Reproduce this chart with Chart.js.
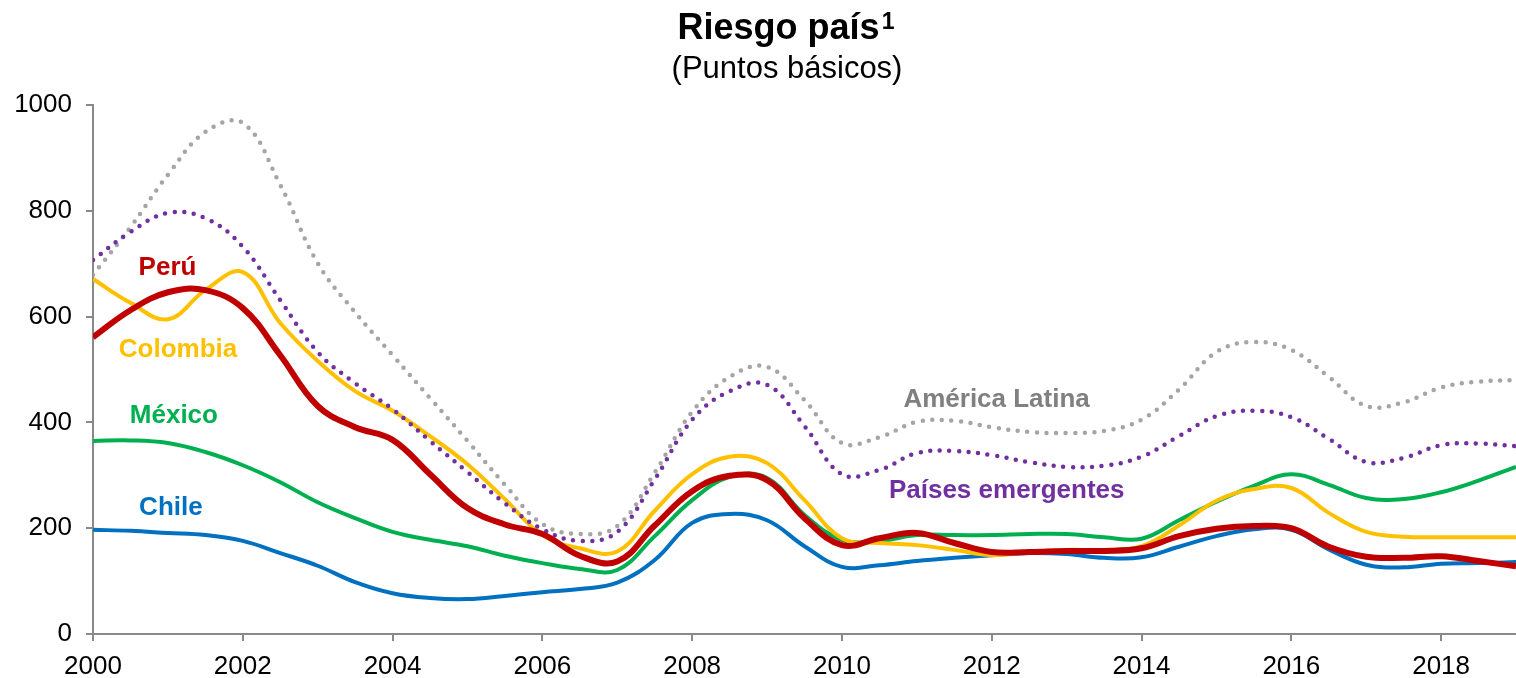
<!DOCTYPE html>
<html>
<head>
<meta charset="utf-8">
<title>Riesgo país</title>
<script src="https://cdn.jsdelivr.net/npm/chart.js@4.4.1/dist/chart.umd.min.js"></script>
<style>
  html, body { margin: 0; padding: 0; background: #ffffff; }
  #wrap { width: 1516px; height: 678px; position: relative; }
</style>
</head>
<body>
<div id="wrap"><canvas id="riesgoChart"></canvas></div>
<script>
// Spread soberano semestral, puntos básicos
var periodos = [
  2000, 2000.5, 2001, 2001.5, 2002, 2002.5, 2003, 2003.5, 2004, 2004.5,
  2005, 2005.5, 2006, 2006.5, 2007, 2007.5, 2008, 2008.5, 2009, 2009.5,
  2010, 2010.5, 2011, 2011.5, 2012, 2012.5, 2013, 2013.5, 2014, 2014.5,
  2015, 2015.5, 2016, 2016.5, 2017, 2017.5, 2018, 2018.5, 2019
];
var americaLatina = [
  679, 769, 868, 949, 966, 849, 701, 608, 527, 446,
  365, 282, 208, 189, 204, 305, 420, 486, 505, 442,
  361, 372, 401, 403, 391, 382, 380, 384, 405, 462,
  533, 552, 537, 486, 431, 438, 466, 477, 480
];
var paisesEmergentes = [
  707, 760, 796, 786, 732, 631, 533, 474, 425, 365,
  306, 247, 198, 176, 193, 292, 405, 459, 471, 393,
  302, 310, 342, 346, 338, 325, 316, 318, 335, 374,
  412, 422, 410, 369, 325, 333, 357, 360, 355
];
var colombia = [
  671, 626, 595, 650, 684, 588, 516, 459, 422, 374,
  321, 255, 187, 162, 156, 233, 302, 335, 323, 253,
  181, 172, 168, 159, 149, 155, 159, 159, 166, 205,
  252, 274, 276, 229, 193, 184, 183, 183, 183
];
var peru = [
  561, 612, 646, 650, 616, 527, 431, 391, 367, 302,
  238, 207, 189, 148, 137, 205, 270, 299, 291, 219,
  168, 181, 191, 172, 155, 155, 157, 157, 162, 185,
  199, 204, 200, 165, 146, 144, 147, 138, 128
];
var mexico = [
  365, 366, 361, 344, 319, 287, 249, 219, 193, 178,
  166, 148, 134, 123, 121, 185, 253, 297, 295, 225,
  178, 176, 187, 187, 187, 189, 189, 183, 180, 215,
  250, 280, 302, 282, 257, 255, 268, 290, 316
];
var chile = [
  197, 195, 191, 187, 176, 153, 129, 98, 77, 68,
  66, 72, 79, 85, 97, 140, 210, 227, 215, 166,
  127, 130, 138, 144, 149, 153, 151, 144, 145, 165,
  185, 198, 197, 160, 131, 126, 133, 134, 136
];
var ticksY = [0, 200, 400, 600, 800, 1000];
var ticksX = [2000, 2002, 2004, 2006, 2008, 2010, 2012, 2014, 2016, 2018];

function puntos(valores) {
  return periodos.map(function(p, i) { return { x: p, y: valores[i] }; });
}

var FUENTE = '"Liberation Sans", Arial, Helvetica, sans-serif';

// etiquetas de serie dentro del gráfico (x en años, y en pb, sobre la línea base)
var etiquetas = [
  { texto: 'Perú', x: 2000.995, y: 679, color: '#C00000' },
  { texto: 'Colombia', x: 2001.135, y: 524, color: '#FFC000' },
  { texto: 'México', x: 2001.08, y: 399, color: '#00B050' },
  { texto: 'Chile', x: 2001.04, y: 225, color: '#0070C0' },
  { texto: 'América Latina', x: 2012.065, y: 429, color: '#808080' },
  { texto: 'Países emergentes', x: 2012.2, y: 257, color: '#7030A0' }
];

var textosPlugin = {
  id: 'textos',
  afterDraw: function(chart) {
    var ctx = chart.ctx;
    var sx = chart.scales.x, sy = chart.scales.y;
    ctx.save();
    // título con superíndice
    ctx.fillStyle = '#000000';
    ctx.textBaseline = 'alphabetic';
    ctx.font = 'bold 36px ' + FUENTE;
    var t = 'Riesgo país';
    var wt = ctx.measureText(t).width;
    ctx.font = 'bold 23px ' + FUENTE;
    var ws = ctx.measureText('1').width;
    var x0 = 786 - (wt + ws + 2) / 2;
    ctx.font = 'bold 36px ' + FUENTE;
    ctx.textAlign = 'left';
    ctx.fillText(t, x0, 39);
    ctx.font = 'bold 23px ' + FUENTE;
    ctx.fillText('1', x0 + wt + 2, 29);
    ctx.font = '31px ' + FUENTE;
    ctx.textAlign = 'center';
    ctx.fillText('(Puntos básicos)', 787, 78);

    ctx.font = 'bold 26px ' + FUENTE;
    etiquetas.forEach(function(e) {
      ctx.fillStyle = e.color;
      ctx.fillText(e.texto, sx.getPixelForValue(e.x), sy.getPixelForValue(e.y));
    });
    ctx.restore();
  }
};

var ctx = document.getElementById('riesgoChart').getContext('2d');
var riesgoChart = new Chart(ctx, {
  type: 'line',
  data: {
    datasets: [
      { label: 'Perú', data: puntos(peru), borderColor: '#C00000', borderWidth: 6, order: 1 },
      { label: 'Países emergentes', data: puntos(paisesEmergentes), borderColor: '#7030A0',
        borderWidth: 4.5, borderDash: [0, 9.6], borderCapStyle: 'round', order: 2 },
      { label: 'América Latina', data: puntos(americaLatina), borderColor: '#A5A5A5',
        borderWidth: 4.5, borderDash: [0, 9.6], borderCapStyle: 'round', order: 3 },
      { label: 'Colombia', data: puntos(colombia), borderColor: '#FFC000', borderWidth: 4, order: 4 },
      { label: 'México', data: puntos(mexico), borderColor: '#00B050', borderWidth: 4, order: 5 },
      { label: 'Chile', data: puntos(chile), borderColor: '#0070C0', borderWidth: 4, order: 6 }
    ]
  },
  options: {
    responsive: true,
    maintainAspectRatio: false,
    animation: false,
    layout: { padding: { top: 105, right: 0, left: 0, bottom: 0 } },
    elements: {
      point: { radius: 0 },
      line: { tension: 0.4, fill: false, borderJoinStyle: 'round' }
    },
    plugins: {
      legend: { display: false },
      tooltip: { enabled: false }
    },
    scales: {
      x: {
        type: 'linear',
        min: 2000,
        max: 2019,
        afterFit: function(s) { s.height = 44; },
        afterBuildTicks: function(s) { s.ticks = ticksX.map(function(v) { return { value: v }; }); },
        ticks: {
          color: '#000000',
          font: { family: FUENTE, size: 26 },
          padding: 10,
          maxRotation: 0,
          callback: function(v) { return String(v); }
        },
        grid: { drawOnChartArea: false, drawTicks: true, tickLength: 7, color: '#898989', lineWidth: 2 },
        border: { color: '#898989', width: 2 }
      },
      y: {
        min: 0,
        max: 1000,
        afterFit: function(s) { s.width = 93; },
        afterBuildTicks: function(s) { s.ticks = ticksY.map(function(v) { return { value: v }; }); },
        ticks: {
          color: '#000000',
          font: { family: FUENTE, size: 26 },
          padding: 14,
          callback: function(v) { return String(v); }
        },
        grid: { drawOnChartArea: false, drawTicks: true, tickLength: 7, color: '#898989', lineWidth: 2 },
        border: { color: '#898989', width: 2 }
      }
    }
  },
  plugins: [textosPlugin]
});
</script>
</body>
</html>
